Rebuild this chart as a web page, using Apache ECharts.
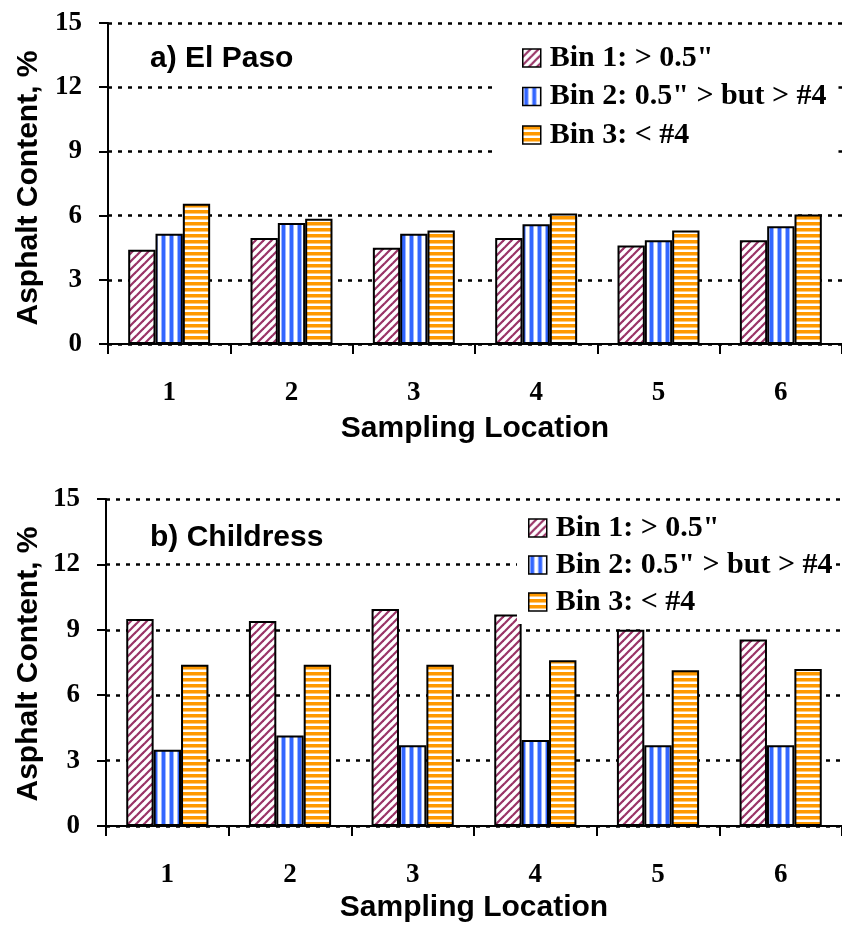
<!DOCTYPE html>
<html>
<head>
<meta charset="utf-8">
<script src="https://cdn.jsdelivr.net/npm/echarts@6/dist/echarts.min.js"></script>
<style>
html,body{margin:0;padding:0;background:#fff;}
#chart{width:842px;height:925px;}
</style>
</head>
<body>
<div id="chart"></div>
<script>
// ---- data ----
var categories = ['1', '2', '3', '4', '5', '6'];
var seriesNames = ['Bin 1: > 0.5"', 'Bin 2: 0.5" > but > #4', 'Bin 3: < #4'];
var elPasoBin1 = [4.4, 4.95, 4.5, 4.95, 4.6, 4.85];
var elPasoBin2 = [5.15, 5.65, 5.15, 5.6, 4.85, 5.5];
var elPasoBin3 = [6.55, 5.85, 5.3, 6.1, 5.3, 6.05];
var childressBin1 = [9.5, 9.4, 9.95, 9.7, 9.0, 8.55];
var childressBin2 = [3.5, 4.15, 3.7, 3.95, 3.7, 3.7];
var childressBin3 = [7.4, 7.4, 7.4, 7.6, 7.15, 7.2];
var yTicks = [0, 3, 6, 9, 12, 15];
var panelTitles = ['a) El Paso', 'b) Childress'];
var yAxisTitle = 'Asphalt Content, %';
var xAxisTitle = 'Sampling Location';

// ---- patterns ----
function makeTile(w, h, draw) {
  var c = document.createElement('canvas');
  c.width = w; c.height = h;
  var ctx = c.getContext('2d');
  ctx.fillStyle = '#ffffff';
  ctx.fillRect(0, 0, w, h);
  draw(ctx);
  return { image: c, repeat: 'repeat' };
}
var diagPattern = makeTile(8, 8, function (ctx) {
  ctx.strokeStyle = '#993366';
  ctx.lineWidth = 2.2;
  for (var k = -8; k <= 8; k += 8) {
    ctx.beginPath();
    ctx.moveTo(k - 1, 9);
    ctx.lineTo(k + 9, -1);
    ctx.stroke();
  }
});
var vertPattern = makeTile(8, 4, function (ctx) {
  ctx.fillStyle = '#9db5ff';
  ctx.fillRect(1, 0, 1, 4);
  ctx.fillRect(5, 0, 1, 4);
  ctx.fillStyle = '#3366ff';
  ctx.fillRect(2, 0, 3, 4);
});
var horizPattern = makeTile(4, 6, function (ctx) {
  ctx.fillStyle = '#ff9900';
  ctx.fillRect(0, 0, 4, 3);
  ctx.fillStyle = '#ffc97a';
  ctx.fillRect(0, 3, 4, 1);
});
var patterns = [diagPattern, vertPattern, horizPattern];

var sans = "'Liberation Sans', Arial, sans-serif";
var serif = "'Liberation Serif', 'Times New Roman', serif";

var grids = [
  { left: 108, top: 23, width: 740, height: 321 },
  { left: 106, top: 499, width: 742, height: 327 }
];
var nameGaps = [70, 67];

function xAxisFor(i) {
  return {
    type: 'category', gridIndex: i, data: categories,
    name: xAxisTitle, nameLocation: 'middle', nameGap: nameGaps[i],
    nameTextStyle: { fontFamily: sans, fontWeight: 'bold', fontSize: 30, color: '#000', verticalAlign: 'top' },
    axisLine: { show: true, lineStyle: { color: '#000', width: 2 } },
    axisTick: { show: true, length: 10, lineStyle: { color: '#000', width: 2 } },
    axisLabel: { margin: 36, fontFamily: serif, fontWeight: 'bold', fontSize: 27, color: '#000' },
    splitLine: { show: false }
  };
}
function yAxisFor(i) {
  return {
    type: 'value', gridIndex: i, min: yTicks[0], max: yTicks[yTicks.length - 1], interval: 3,
    axisLine: { show: true, lineStyle: { color: '#000', width: 2 } },
    axisTick: { show: true, length: 9, lineStyle: { color: '#000', width: 2 } },
    axisLabel: { margin: 26, fontFamily: serif, fontWeight: 'bold', fontSize: 27, color: '#000' },
    splitLine: { show: true, lineStyle: { color: '#000', width: 2.5, type: [4, 6] } }
  };
}

var dataSets = [
  [elPasoBin1, elPasoBin2, elPasoBin3],
  [childressBin1, childressBin2, childressBin3]
];
var series = [];
for (var g = 0; g < 2; g++) {
  for (var s = 0; s < 3; s++) {
    series.push({
      type: 'bar', name: seriesNames[s], xAxisIndex: g, yAxisIndex: g,
      data: dataSets[g][s],
      barGap: '0%', barCategoryGap: '33%',
      itemStyle: { color: patterns[s], borderColor: '#000', borderWidth: 2 },
      emphasis: { disabled: true },
      animation: false
    });
  }
}

function legendFor(left, top, padding, gap) {
  return {
    orient: 'vertical', left: left, top: top, padding: padding,
    backgroundColor: '#ffffff', itemGap: gap, itemWidth: 18, itemHeight: 18,
    icon: 'rect', selectedMode: false, data: seriesNames,
    itemStyle: { borderColor: '#000', borderWidth: 1.5 },
    textStyle: { fontFamily: serif, fontWeight: 'bold', fontSize: 30, color: '#000', lineHeight: 28, padding: [0, 0, 0, 4] }
  };
}

var option = {
  backgroundColor: '#ffffff',
  animation: false,
  grid: grids,
  xAxis: [xAxisFor(0), xAxisFor(1)],
  yAxis: [yAxisFor(0), yAxisFor(1)],
  legend: [
    legendFor(495, 33, [10, 12, 8, 27], 8.5),
    legendFor(517, 506, [7, 3, 7, 11], 7)
  ],
  graphic: [
    { type: 'text', left: 150, top: 44, style: { text: panelTitles[0], font: 'bold 30px ' + sans, fill: '#000' } },
    { type: 'text', left: 150, top: 523, style: { text: panelTitles[1], font: 'bold 30px ' + sans, fill: '#000' } },
    { type: 'text', x: 29, y: 188, rotation: Math.PI / 2, style: { text: yAxisTitle, font: 'bold 30px ' + sans, fill: '#000', align: 'center', verticalAlign: 'middle' } },
    { type: 'text', x: 29, y: 664, rotation: Math.PI / 2, style: { text: yAxisTitle, font: 'bold 30px ' + sans, fill: '#000', align: 'center', verticalAlign: 'middle' } }
  ],
  series: series
};

var chart = echarts.init(document.getElementById('chart'), null, { renderer: 'canvas' });
chart.setOption(option);
</script>
</body>
</html>
